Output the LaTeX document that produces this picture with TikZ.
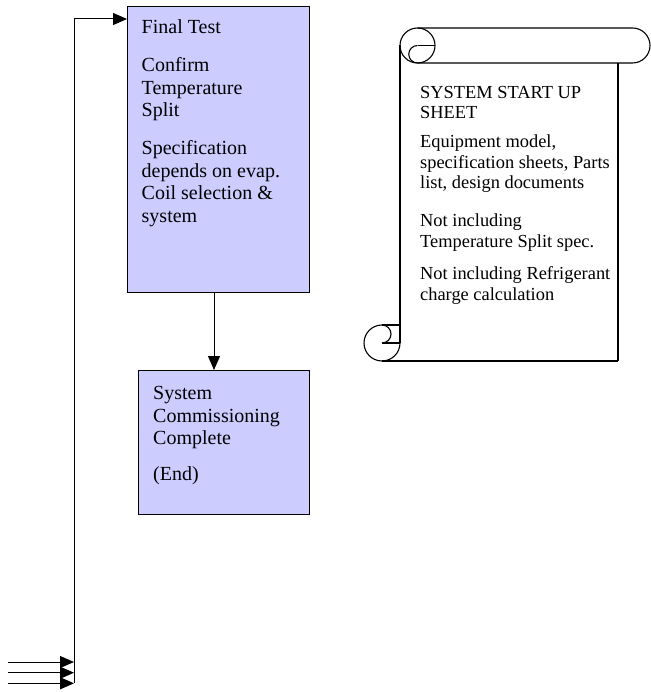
\documentclass[tikz,border=0pt]{standalone}
\usepackage{fontspec}
\setmainfont{Liberation Serif}
\usetikzlibrary{arrows.meta}
\definecolor{boxfill}{RGB}{204,204,255}
\begin{document}
\begin{tikzpicture}[x=1pt,y=-1pt,
  boxstyle/.style={draw=black, line width=1pt, fill=boxfill, inner sep=0pt, anchor=north west},
  btxt/.style={anchor=north west, inner sep=0pt, align=left, font=\rmfamily\fontsize{20}{22.7}\selectfont},
  stxt/.style={anchor=north west, inner sep=0pt, align=left, font=\rmfamily\fontsize{18.4}{20.4}\selectfont},
  conn/.style={line width=1pt, -{Triangle[length=14pt,width=12pt]}},
  scrollline/.style={line width=1.1pt}]
\fill[white] (0,0) rectangle (650,692);
\useasboundingbox (0,0) rectangle (650,692);

% boxes
\node[boxstyle, minimum width=182pt, minimum height=286pt] (final) at (127,6) {};
\node[boxstyle, minimum width=171pt, minimum height=144pt] (done) at (138,370) {};

% box texts
\node[btxt] (t1) at (141.5,19.6) {Final Test};
\node[btxt] (t2) at (141.5,57.3) {Confirm\\Temperature\\Split};
\node[btxt] (t3) at (141.5,140.3) {Specification\\depends on evap.\\Coil selection \&\\system};
\node[btxt] (t4) at (153,386) {System\\Commissioning\\Complete};
\node[btxt] (t5) at (153,466.3) {(End)};

% connectors
\path (final.south west) ++(87,0) coordinate (fs);
\draw[conn] (fs) -- (fs |- done.north);
\coordinate (loopbot) at (74,683.3);
\coordinate (looptop) at (74,19);
\draw[conn] (loopbot) -- (looptop) -- (looptop -| final.west);
\coordinate (in1) at (8,662);
\coordinate (in2) at (8,672.7);
\coordinate (in3) at (8,683.3);
\draw[conn] (in1) -- (in1 -| loopbot);
\draw[conn] (in2) -- (in2 -| loopbot);
\draw[conn] (in3) -- (in3 -| loopbot);

% scroll
\draw[scrollline] (400,45.5) -- (400,343);
\draw[scrollline] (618,63) -- (618,361);
\draw[scrollline] (382,361) -- (618,361);
\draw[scrollline] (417.5,28) -- (632.5,28) arc[start angle=-90,end angle=90,radius=17.5] -- (417.5,63);
\draw[scrollline] (417.5,45.5) circle[radius=17.5];
\draw[scrollline] (417.5,45.5) arc[start angle=-90,end angle=-270,radius=8.75];
\draw[scrollline] (417.5,45.5) -- (435,45.5);
\draw[scrollline] (382,325) arc[start angle=-90,end angle=-270,radius=18];
\draw[scrollline] (400,343) arc[start angle=0,end angle=90,radius=18];
\draw[scrollline] (382,325) arc[start angle=-90,end angle=90,radius=9];
\draw[scrollline] (382,325) -- (400,325);
\draw[scrollline] (382,343) -- (400,343);

% scroll texts
\node[stxt] (s1) at (420,85.8) {SYSTEM START UP\\SHEET};
\node[stxt] (s2) at (420,134.7) {Equipment model,\\specification sheets, Parts\\list, design documents};
\node[stxt] (s3) at (420,214) {Not including\\Temperature Split spec.};
\node[stxt] (s4) at (420,266.7) {Not including Refrigerant\\charge calculation};
\end{tikzpicture}
\end{document}
